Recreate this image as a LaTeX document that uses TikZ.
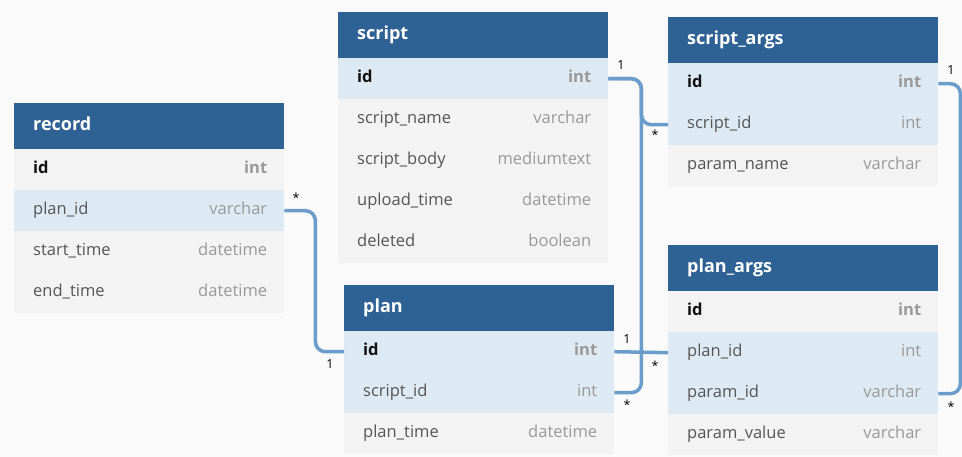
\documentclass[tikz,border=0pt]{standalone}
\usepackage{fontspec}
\setmainfont{Open Sans}
\usetikzlibrary{calc}
\definecolor{bgc}{HTML}{FAFAFA}
\definecolor{hdrc}{HTML}{2F6294}
\definecolor{hlc}{HTML}{DDEAF4}
\definecolor{plc}{HTML}{F3F3F3}
\definecolor{connc}{HTML}{6A9CCC}
\definecolor{fieldc}{HTML}{555555}
\definecolor{typec}{HTML}{999999}
\definecolor{keyc}{HTML}{111111}
\tikzset{
  hdr/.style={fill=hdrc, draw=none, minimum width=270pt, minimum height=46pt, inner sep=0pt, anchor=north west},
  hdrtxt/.style={text=white, font=\fontsize{18}{21}\selectfont\bfseries, inner sep=0pt, text height=13pt, text depth=4pt, anchor=west},
  rowbox/.style={draw=none, minimum width=270pt, minimum height=41pt, inner sep=0pt, anchor=north west},
  fieldtxt/.style={text=fieldc, font=\fontsize{16.5}{19}\selectfont, inner sep=0pt, text height=12pt, text depth=4pt, anchor=west},
  typetxt/.style={text=typec, font=\fontsize{16.5}{19}\selectfont, inner sep=0pt, text height=12pt, text depth=4pt, anchor=east},
  conn/.style={draw=connc, line width=3.5pt, rounded corners=10pt},
  card/.style={font=\fontsize{12.5}{14}\selectfont, text=black, inner sep=0pt}
}
\newcommand\erhead[4]{%
  \node[hdr] (#1-h) at (#2,#3) {};
  \node[hdrtxt] (#1-t) at ([xshift=19pt]#1-h.west) {#4};
}
\newcommand\errow[7]{%
  \node[rowbox, fill=#5] (#1-#2) at (#3,#4) {};
  \node[fieldtxt] (#1-#2-f) at ([xshift=19pt]#1-#2.west) {#6};
  \node[typetxt] (#1-#2-t) at ([xshift=-17pt]#1-#2.east) {#7};
}
\newcommand\keyf[1]{\textcolor{keyc}{\bfseries #1}}
\newcommand\keyt[1]{\textbf{#1}}
\begin{document}
\begin{tikzpicture}[x=1pt,y=-1pt]
\useasboundingbox[fill=bgc] (0,0) rectangle (962,457);

% record
\erhead{record}{14}{103}{record}
\errow{record}{1}{14}{149}{plc}{\keyf{id}}{\keyt{int}}
\errow{record}{2}{14}{190}{hlc}{plan\_id}{varchar}
\errow{record}{3}{14}{231}{plc}{start\_time}{datetime}
\errow{record}{4}{14}{272}{plc}{end\_time}{datetime}

% script
\erhead{script}{338}{12}{script}
\errow{script}{1}{338}{58}{hlc}{\keyf{id}}{\keyt{int}}
\errow{script}{2}{338}{99}{plc}{script\_name}{varchar}
\errow{script}{3}{338}{140}{plc}{script\_body}{mediumtext}
\errow{script}{4}{338}{181}{plc}{upload\_time}{datetime}
\errow{script}{5}{338}{222}{plc}{deleted}{boolean}

% script_args
\erhead{sargs}{668}{17}{script\_args}
\errow{sargs}{1}{668}{63}{hlc}{\keyf{id}}{\keyt{int}}
\errow{sargs}{2}{668}{104}{hlc}{script\_id}{int}
\errow{sargs}{3}{668}{145}{plc}{param\_name}{varchar}

% plan
\erhead{plan}{344}{285}{plan}
\errow{plan}{1}{344}{331}{hlc}{\keyf{id}}{\keyt{int}}
\errow{plan}{2}{344}{372}{hlc}{script\_id}{int}
\errow{plan}{3}{344}{413}{plc}{plan\_time}{datetime}

% plan_args
\erhead{pargs}{668}{245}{plan\_args}
\errow{pargs}{1}{668}{291}{plc}{\keyf{id}}{\keyt{int}}
\errow{pargs}{2}{668}{332}{hlc}{plan\_id}{int}
\errow{pargs}{3}{668}{373}{hlc}{param\_id}{varchar}
\errow{pargs}{4}{668}{414}{plc}{param\_value}{varchar}

% connectors
\draw[conn] (record-2.east) -- ++(31,0) |- (plan-1.west);
\draw[conn] (script-1.east) -- ++(33,0) |- (sargs-2.west);
\draw[conn] (script-1.east) -- ++(33,0) |- (plan-2.east);
\draw[conn] (plan-1.east) -- (pargs-2.west);
\draw[conn] (sargs-1.east) -- ++(22,0) |- (pargs-3.east);

% cardinalities
\node[card] (c1) at (296,198) {*};
\node[card] (c2) at (330,364) {1};
\node[card] (c3) at (621,65) {1};
\node[card] (c4) at (655,135) {*};
\node[card] (c5) at (627,339) {1};
\node[card] (c6) at (655,366) {*};
\node[card] (c7) at (627,405) {*};
\node[card] (c8) at (951,70) {1};
\node[card] (c9) at (951,407) {*};
\end{tikzpicture}
\end{document}
